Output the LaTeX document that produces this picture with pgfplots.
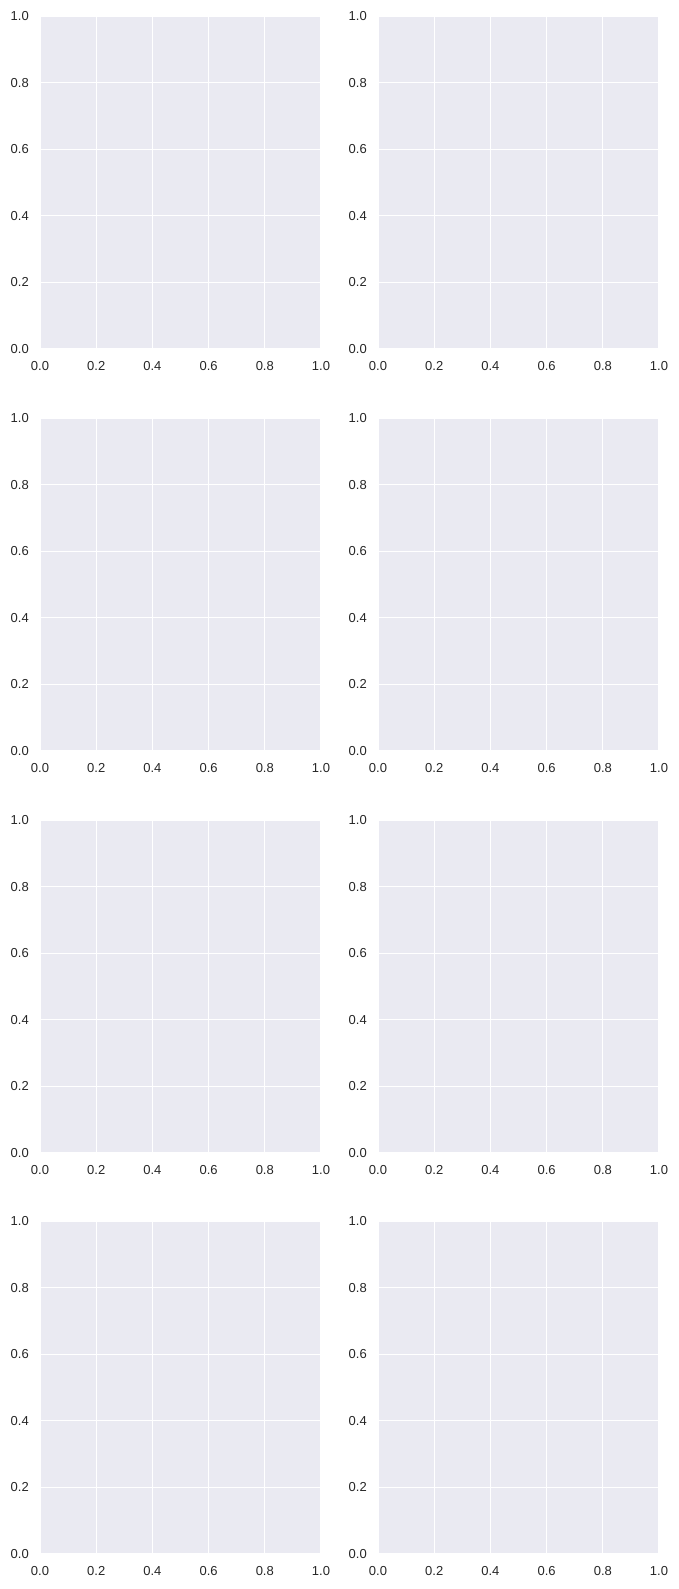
\documentclass[border=0pt]{standalone}
\usepackage{pgfplots}
\pgfplotsset{compat=1.18}
\usepackage{fontspec}
\setmainfont{Liberation Sans}

\definecolor{sbbg}{RGB}{234,234,242}
\definecolor{sbtext}{RGB}{38,38,38}

% seaborn darkgrid look: grey face, white grid, no spines, no tick marks
\pgfplotsset{
  sbpanel/.style={
    scale only axis,
    width=281pt, height=333pt,
    anchor=north west,
    xmin=0, xmax=1, ymin=0, ymax=1,
    xtick={0,0.2,0.4,0.6,0.8,1},
    ytick={0,0.2,0.4,0.6,0.8,1},
    xticklabels={0.0,0.2,0.4,0.6,0.8,1.0},
    yticklabels={0.0,0.2,0.4,0.6,0.8,1.0},
    /pgf/number format/assume math mode=true,
    axis background/.style={fill=sbbg},
    axis line style={draw=none},
    major tick length=0pt,
    grid=major,
    major grid style={white, line width=1.2pt},
    tick label style={font=\fontsize{13}{15}\selectfont, text=sbtext, inner sep=0pt},
    xticklabel style={anchor=north},
    yticklabel style={anchor=east},
    xticklabel shift=12pt,
    yticklabel shift=11pt,
  },
}

\begin{document}
\begin{tikzpicture}
\path[use as bounding box] (0pt,0pt) rectangle (678pt,-1589pt);

% row 1
\begin{axis}[sbpanel, at={(40pt,-16pt)}]
\end{axis}
\begin{axis}[sbpanel, at={(378pt,-16pt)}]
\end{axis}

% row 2
\begin{axis}[sbpanel, at={(40pt,-418pt)}]
\end{axis}
\begin{axis}[sbpanel, at={(378pt,-418pt)}]
\end{axis}

% row 3
\begin{axis}[sbpanel, at={(40pt,-820pt)}]
\end{axis}
\begin{axis}[sbpanel, at={(378pt,-820pt)}]
\end{axis}

% row 4
\begin{axis}[sbpanel, at={(40pt,-1221pt)}]
\end{axis}
\begin{axis}[sbpanel, at={(378pt,-1221pt)}]
\end{axis}

\end{tikzpicture}
\end{document}
